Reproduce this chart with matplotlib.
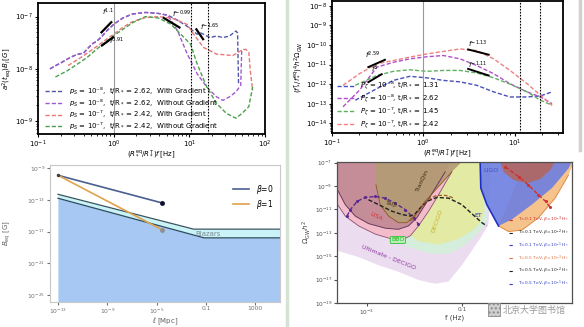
import matplotlib
matplotlib.use("Agg")
import matplotlib.pyplot as plt
from matplotlib.patches import Rectangle

W, H = 584, 327

# ---------------- top left: B-field spectra ----------------
tl_rise_f = [0.144, 0.17, 0.2, 0.246, 0.29, 0.333, 0.4, 0.447, 0.52, 0.60, 0.7, 0.806, 1.0, 1.32, 1.77, 2.63, 3.9, 5.2]
tl_rise_b = [1.0e-8, 1.15e-8, 1.3e-8, 1.55e-8, 1.75e-8, 1.9e-8, 2.0e-8, 2.4e-8, 3.0e-8, 3.4e-8, 4.2e-8, 5.3e-8, 7.1e-8, 9.4e-8, 1.12e-7, 1.2e-7, 1.15e-7, 1.06e-7]
tl_blue_f = [7.0, 9.4, 12.7, 14.0, 18.8, 22.9, 27.8, 33.9, 41.2, 43.4, 44.7]
tl_blue_b = [8.5e-8, 6.5e-8, 4.6e-8, 4.9e-8, 3.98e-8, 4.25e-8, 3.98e-8, 4.25e-8, 5.3e-8, 4.9e-8, 5.2e-9]
tl_purple_f = [7.0, 9.4, 12.7, 17.0, 22.9, 27.8, 33.9, 41.2, 47.8, 49.2, 52.7]
tl_purple_b = [5.3e-8, 1.92e-8, 8.05e-9, 4.5e-9, 2.92e-9, 2.5e-9, 2.92e-9, 3.63e-9, 4.85e-9, 2.22e-8, 2.38e-8]
tl_red_f = [0.25, 0.333, 0.447, 0.60, 0.806, 1.0, 1.32, 1.77, 2.63, 3.9, 5.75, 7.0, 9.4, 11.4, 15.4, 22.9, 30.7, 37.4, 47.8, 55.4, 61.1, 64.0, 68.7]
tl_red_b = [1.16e-8, 1.5e-8, 2.0e-8, 2.7e-8, 3.7e-8, 4.6e-8, 6.2e-8, 8.0e-8, 9.6e-8, 1.0e-7, 9.4e-8, 8.5e-8, 7.06e-8, 4.6e-8, 2.57e-8, 1.92e-8, 1.85e-8, 1.79e-8, 2.22e-8, 2.38e-8, 2.1e-8, 9.0e-9, 3.9e-9]
tl_green_f = [0.17, 0.246, 0.333, 0.447, 0.60, 0.806, 1.0, 1.32, 1.77, 2.63, 3.9, 5.75, 7.0, 10.4, 12.7, 17.0, 22.9, 30.7, 41.2, 50.0, 61.1, 68.7]
tl_green_b = [7.0e-9, 9.3e-9, 1.24e-8, 1.66e-8, 2.4e-8, 3.4e-8, 4.3e-8, 5.7e-8, 7.6e-8, 1.0e-7, 9.4e-8, 7.1e-8, 5.3e-8, 2.96e-8, 1.24e-8, 4.5e-9, 2.19e-9, 1.42e-9, 1.14e-9, 1.42e-9, 1.9e-9, 4.5e-9]
tl_labels = [r"$p_S$ = 10⁻⁸,  t/R$_*$ = 2.62,  With Gradient",
             r"$p_S$ = 10⁻⁸,  t/R$_*$ = 2.62,  Without Gradient",
             r"$p_S$ = 10⁻⁷,  t/R$_*$ = 2.42,  With Gradient",
             r"$p_S$ = 10⁻⁷,  t/R$_*$ = 2.42,  Without Gradient"]
tl_slopes = [(r"$f^{1.1}$", 0.70, 1.22e-7, [0.69, 0.93], [5.0e-8, 7.8e-8]),
             (r"$f^{0.91}$", 0.86, 3.3e-8, [0.70, 0.98], [2.8e-8, 4.0e-8]),
             (r"$f^{-0.99}$", 5.9, 1.1e-7, [4.6, 7.4], [9.4e-8, 6.2e-8]),
             (r"$f^{-1.65}$", 13.8, 6.3e-8, [12.4, 15.2], [5.7e-8, 3.7e-8])]

# ---------------- top right: GW spectra ----------------
tr_f = [0.132, 0.20, 0.31, 0.47, 0.71, 1.09, 1.66, 2.53, 3.85, 5.9, 8.9, 13.7, 19.2, 25.7]
tr_pink = [8.7e-13, 3.4e-12, 1.1e-11, 1.6e-11, 2.4e-11, 3.5e-11, 4.7e-11, 6.3e-11, 5.2e-11, 1.95e-11, 5.0e-12, 1.05e-12, 2.7e-13, 8.3e-14]
tr_purple = [6.9e-14, 4.9e-13, 7.4e-12, 1.3e-11, 1.95e-11, 2.5e-11, 2.9e-11, 1.95e-11, 8.9e-12, 3.4e-12, 1.05e-12, 4.0e-13, 2.2e-13, 1.0e-13]
tr_f2 = [0.18, 0.31, 0.47, 0.71, 1.09, 1.66, 2.53, 3.85, 5.9, 8.9, 13.7, 19.2, 25.7]
tr_green = [8.7e-13, 2.75e-12, 4.5e-12, 5.4e-12, 4.5e-12, 5.0e-12, 5.0e-12, 3.7e-12, 2.1e-12, 1.0e-12, 4.0e-13, 1.5e-13, 8.3e-14]
tr_blue = [1.5e-13, 5.9e-13, 1.55e-12, 2.5e-12, 2.1e-12, 1.55e-12, 1.3e-12, 8.7e-13, 4.0e-13, 2.2e-13, 2.2e-13, 2.5e-13, 4.0e-13]
tr_labels = [r"$P_\zeta$ = 10⁻⁸, t/R$_*$ = 1.31",
             r"$P_\zeta$ = 10⁻⁸, t/R$_*$ = 2.62",
             r"$P_\zeta$ = 10⁻⁷, t/R$_*$ = 1.45",
             r"$P_\zeta$ = 10⁻⁷, t/R$_*$ = 2.42"]
tr_slopes = [(r"$f^{2.59}$", 0.23, 3.0e-11, [0.25, 0.38], [7.4e-12, 1.75e-11]),
             (r"$f^{3}$", 0.27, 5.6e-12, [0.25, 0.35], [1.26e-12, 3.2e-12]),
             (r"$f^{-1.13}$", 3.1, 1.1e-10, [3.1, 5.2], [5.9e-11, 3.2e-11]),
             (r"$f^{-1.11}$", 3.1, 9.5e-12, [3.1, 5.2], [6.0e-12, 2.75e-12])]

# ---------------- bottom left: field strength vs scale ----------------
bl_band_l = [1e-13, 0.01, 1e5]
bl_band_top = [10**-12.3, 10**-16.7, 10**-16.7]
bl_blue_l = [1e-13, 0.07, 1e5]
bl_blue_top = [10**-12.8, 10**-17.8, 10**-17.8]
bl_beta0_l = [1e-13, 10**-4.54]
bl_beta0_b = [10**-9.9, 10**-13.4]
bl_beta1_l = [1e-13, 10**-4.54]
bl_beta1_b = [10**-9.9, 10**-16.8]

# ---------------- bottom right: sensitivity curves ----------------
s_lav_f = [2.3e-4, 2.3e-4, 6.7e-4, 1.76e-3, 4.6e-3, 0.0122, 0.0275, 0.0525, 0.1, 0.163, 0.264, 0.364, 0.43]
s_lav_o = [1.2e-7, 3.1e-15, 8.5e-16, 1.7e-16, 4.7e-17, 9.3e-18, 4.4e-18, 6.8e-18, 1.7e-16, 3.1e-15, 5.6e-14, 5.4e-13, 1.2e-7]
s_bbo_f = [3.36e-3, 3.36e-3, 7.5e-3, 0.0233, 0.0525, 0.1, 0.163, 0.264, 0.336, 0.31]
s_bbo_o = [1.2e-7, 4.1e-14, 5.9e-15, 1.6e-15, 1.6e-15, 5.9e-15, 2.95e-14, 2.0e-13, 1.0e-12, 1.2e-7]
s_dec_f = [5.5e-3, 5.5e-3, 0.0122, 0.0323, 0.085, 0.163, 0.243, 0.30, 0.272, 0.243]
s_dec_o = [1.2e-7, 2.0e-13, 1.9e-14, 1.0e-14, 2.95e-14, 1.5e-13, 7.4e-13, 7.1e-12, 6.6e-10, 1.2e-7]
s_pink_f = [2.3e-4, 2.3e-4, 3.5e-4, 6.7e-4, 1.5e-3, 3.36e-3, 5.5e-3, 8.2e-3, 0.0122, 0.0199, 0.0323, 0.0615, 0.0785]
s_pink_o = [1.2e-7, 3.5e-11, 2.7e-12, 3.9e-13, 7.8e-14, 2.95e-14, 2.45e-14, 5.6e-14, 3.9e-13, 7.1e-12, 1.8e-10, 1.66e-8, 1.2e-7]
s_lisa_f = [2.3e-4, 2.3e-4, 3.5e-4, 5.7e-4, 1.08e-3, 2.43e-3, 4.6e-3, 7.5e-3, 0.0113, 0.0169, 0.0275, 0.0446, 0.0568]
s_lisa_o = [1.2e-7, 6.6e-10, 2.6e-11, 2.7e-12, 6.2e-13, 2.5e-13, 2.0e-13, 3.9e-13, 1.95e-12, 2.6e-11, 6.6e-10, 1.66e-8, 1.2e-7]
s_tq_f = [1.5e-3, 1.55e-3, 1.9e-3, 2.86e-3, 4.6e-3, 6.95e-3, 0.0104, 0.0169, 0.0323, 0.0615, 0.1]
s_tq_o = [1.2e-7, 1.26e-9, 2.6e-11, 2.7e-12, 7.4e-13, 7.4e-13, 3.7e-12, 4.9e-11, 9.1e-10, 1.66e-8, 1.2e-7]
s_ce_f = [0.592, 0.96, 1.83, 4.11, 9.2, 17.6, 23.0, 2.15]
s_ce_o = [3.9e-13, 1.3e-13, 1.7e-13, 1.95e-12, 9.3e-11, 8.7e-9, 1.2e-7, 1.2e-7]
s_et_f = [0.243, 0.251, 0.336, 0.592, 1.13, 2.98, 7.85, 17.6, 20.7]
s_et_o = [1.2e-7, 6.6e-10, 2.6e-11, 3.9e-13, 1.4e-12, 2.6e-11, 6.6e-10, 3.2e-8, 1.2e-7]
s_red_f = [0.641, 0.754, 1.22, 2.34, 4.46, 7.24, 9.2]
s_red_o = [1.2e-7, 1.66e-8, 3.3e-9, 1.74e-9, 4.0e-9, 2.3e-8, 1.2e-7]

gw_purple_f = [3.8e-4, 4.5e-4, 6.2e-4, 9.2e-4, 1.5e-3, 2.43e-3, 3.9e-3, 6.4e-3, 9.6e-3, 0.0122]
gw_purple_o = [2.7e-12, 9.8e-12, 4.9e-11, 1.07e-10, 1.3e-10, 9.3e-11, 3.5e-11, 9.8e-12, 1.95e-12, 5.4e-13]
gw_black_f = [1.08e-3, 1.76e-3, 3.36e-3, 5.5e-3, 8.2e-3, 0.0104, 0.0133, 0.0183, 0.0298, 0.0525, 0.1, 0.163, 0.264, 0.336]
gw_black_o = [6.8e-11, 2.6e-11, 7.1e-12, 3.7e-12, 2.7e-12, 4.3e-12, 1.35e-11, 4.9e-11, 1.07e-10, 9.3e-11, 2.6e-11, 4.3e-12, 7.4e-13, 3.9e-13]
gw_brown_f = [8.2e-3, 0.0133, 0.0183, 0.0298, 0.045, 0.07]
gw_brown_o = [1.0e-12, 9.8e-12, 6.8e-11, 1.6e-10, 1.6e-10, 9.3e-11]
gw_red_f = [0.82, 1.6, 2.5, 4.1, 5.8, 7.2]
gw_red_o = [4.4e-8, 6.3e-9, 1.26e-9, 1.8e-10, 4.9e-11, 1.55e-11]
gw_leg = [r"T=0.1 TeV, $\beta$=10$^{-3}$ H$_*$", r"T=0.1 TeV, $\beta$=10$^{-2}$ H$_*$",
          r"T=0.1 TeV, $\beta$=10$^{-1}$ H$_*$", r"T=0.5 TeV, $\beta$=10$^{-3}$ H$_*$",
          r"T=0.5 TeV, $\beta$=10$^{-2}$ H$_*$", r"T=0.5 TeV, $\beta$=10$^{-1}$ H$_*$"]
gw_leg_colors = ["#d03030", "#202020", "#3040c0", "#e07040", "#202020", "#3040c0"]
det_names = [("LISA", 1.6e-3, 2.7e-12, -25, "#e03030"), ("Taiji", 3.3e-3, 2.6e-11, -15, "#3a2a10"),
             ("TianQin", 0.0144, 3.3e-9, 65, "#3a2a10"), ("DECIGO", 0.0298, 1.0e-12, 70, "#c8b030"),
             ("ET", 0.224, 3.3e-12, 0, "#2030c0"), ("LIGO", 0.415, 2.3e-8, 0, "#4050c0"),
             ("Ultimate - DECIGO", 2.9e-3, 8.5e-16, -22, "#8a3aa0")]

fig = plt.figure(figsize=(W / 100, H / 100), dpi=100)
fig.patch.set_facecolor("white")


def add_ax(x0, y0, x1, y1):
    return fig.add_axes([x0 / W, 1 - y1 / H, (x1 - x0) / W, (y1 - y0) / H])


dash = (0, (3, 1.5))
vdash = (0, (1.5, 1.2))

# ---- top left
ax1 = add_ax(38, 3, 265, 134)
ax1.set_xscale("log")
ax1.set_yscale("log")
c1 = ["#5058a8", "#a058d0", "#e87878", "#4ea04e"]
ax1.plot(tl_rise_f + tl_blue_f, tl_rise_b + tl_blue_b, color=c1[0], lw=1, ls=dash, label=tl_labels[0])
ax1.plot(tl_rise_f + tl_purple_f, tl_rise_b + tl_purple_b, color=c1[1], lw=1, ls=dash, label=tl_labels[1])
ax1.plot(tl_red_f, tl_red_b, color=c1[2], lw=1, ls=dash, label=tl_labels[2])
ax1.plot(tl_green_f, tl_green_b, color=c1[3], lw=1, ls=dash, label=tl_labels[3])
ax1.axvline(1.0, color="#999999", lw=0.8)
ax1.axvline(10.4, color="black", lw=0.8, ls=vdash)
ax1.axvline(17.5, color="black", lw=0.8, ls=vdash)
for txt, tx, ty, sx, sy in tl_slopes:
    ax1.plot(sx, sy, color="black", lw=1.6)
    ax1.text(tx, ty, txt, fontsize=5, fontweight="bold", va="center")
ax1.set_xlim(0.1, 100)
ax1.set_ylim(10**-9.245, 10**-6.74)
ax1.set_ylabel(r"$a^2(t_{\rm eq})B_l\,[G]$", fontsize=5, labelpad=1)
ax1.set_xlabel(r"$(R_*^{\rm eq}/R_*^{\rm T})f\,[{\rm Hz}]$", fontsize=5)
ax1.xaxis.set_label_coords(0.5, -0.105)
ax1.legend(loc="lower left", bbox_to_anchor=(0.01, -0.02), frameon=False, fontsize=5,
           handlelength=2.6, labelspacing=0.05, borderpad=0.2)

# ---- top right
ax2 = add_ax(332, 1, 563, 133)
ax2.set_xscale("log")
ax2.set_yscale("log")
c2 = ["#4a50b8", "#b050c8", "#60b060", "#f08080"]
ax2.plot(tr_f2, tr_blue, color=c2[0], lw=1, ls=dash, label=tr_labels[0])
ax2.plot(tr_f, tr_purple, color=c2[1], lw=1, ls=dash, label=tr_labels[1])
ax2.plot(tr_f2, tr_green, color=c2[2], lw=1, ls=dash, label=tr_labels[2])
ax2.plot(tr_f, tr_pink, color=c2[3], lw=1, ls=dash, label=tr_labels[3])
ax2.axvline(1.0, color="#999999", lw=0.8)
ax2.axvline(11.5, color="black", lw=0.8, ls=vdash)
ax2.axvline(19.0, color="black", lw=0.8, ls=vdash)
for txt, tx, ty, sx, sy in tr_slopes:
    ax2.plot(sx, sy, color="black", lw=1.4)
    ax2.text(tx, ty, txt, fontsize=5, fontweight="bold", va="center")
ax2.set_xlim(0.1, 10**1.53)
ax2.set_ylim(10**-14.5, 10**-7.75)
ax2.set_ylabel(r"$(f_*^{\rm T}/f_*^{\rm eq})^4h^2\Omega_{\rm GW}$", fontsize=5, labelpad=1)
ax2.set_xlabel(r"$(R_*^{\rm eq}/R_*^{\rm T})f\,[{\rm Hz}]$", fontsize=5)
ax2.xaxis.set_label_coords(0.5, -0.11)
ax2.legend(loc="lower left", bbox_to_anchor=(0.0, -0.02), frameon=False, fontsize=5,
           handlelength=2.6, labelspacing=0.05, borderpad=0.2)

for ax in (ax1, ax2):
    ax.tick_params(labelsize=5, length=2.5, width=0.8, pad=1)
    ax.tick_params(which="minor", length=1.5, width=0.6)
    for s in ax.spines.values():
        s.set_linewidth(1.3)

# ---- bottom left
ax3 = add_ax(50, 165, 280, 302)
ax3.set_xscale("log")
ax3.set_yscale("log")
ax3.fill_between(bl_band_l, 1e-30, bl_band_top, color="#c9f3f6", lw=0)
ax3.plot(bl_band_l, bl_band_top, color="#3a5560", lw=0.9)
ax3.fill_between(bl_blue_l, 1e-30, bl_blue_top, color="#a6c8f2", lw=0)
ax3.plot(bl_blue_l, bl_blue_top, color="#304a60", lw=0.9)
ax3.plot(bl_beta0_l, bl_beta0_b, color="#4a5f90", lw=1.2, label=r"$\beta$=0")
ax3.plot(bl_beta1_l, bl_beta1_b, color="#e0a24a", lw=1.2, label=r"$\beta$=1")
ax3.plot(bl_beta0_l[-1], bl_beta0_b[-1], "o", color="#101030", ms=2.5)
ax3.plot(bl_beta1_l[-1], bl_beta1_b[-1], "o", color="#909090", ms=2.5)
ax3.plot(bl_beta0_l[0], bl_beta0_b[0], "o", color="#404040", ms=1.5)
ax3.text(0.014, 10**-17.3, "Blazars", fontsize=5, color="#7a8a90", va="center")
ax3.set_xlim(10**-13.65, 1e5)
ax3.set_ylim(10**-25.9, 10**-8.6)
ax3.set_xticks([1e-13, 1e-9, 1e-5, 0.1, 1000])
ax3.set_xticklabels([r"$10^{-13}$", r"$10^{-9}$", r"$10^{-5}$", "0.1", "1000"])
ax3.set_yticks([1e-9, 1e-13, 1e-17, 1e-21, 1e-25])
ax3.set_yticklabels([r"$10^{-9}$", r"$10^{-13}$", r"$10^{-17}$", r"$10^{-21}$", r"$10^{-25}$"])
ax3.minorticks_off()
ax3.tick_params(labelsize=4.3, length=2, colors="#707070", pad=1.2)
for s in ax3.spines.values():
    s.set_color("#c8c8c8")
ax3.set_xlabel(r"$\ell$ [Mpc]", fontsize=5, color="#606060")
ax3.xaxis.set_label_coords(0.5, -0.1)
ax3.set_ylabel(r"$B_{\rm eq}$ [G]", fontsize=5, color="#606060")
ax3.yaxis.set_label_coords(-0.16, 0.5)
ax3.legend(loc="upper right", bbox_to_anchor=(1.0, 0.92), frameon=False, fontsize=5.5,
           handlelength=2.2, labelspacing=0.3)

# ---- bottom right
ax4 = add_ax(337, 162, 572, 303)
ax4.set_xscale("log")
ax4.set_yscale("log")
ax4.fill(s_lav_f, s_lav_o, color="#ecdcf0", lw=0)
ax4.fill(s_bbo_f, s_bbo_o, color="#d4eedb", lw=0)
ax4.fill(s_dec_f, s_dec_o, color="#e2eaa4", lw=0)
ax4.fill(s_pink_f, s_pink_o, color="#f2bccb", lw=0)
ax4.plot(s_pink_f[1:-1], s_pink_o[1:-1], color="#8a5070", lw=0.6)
ax4.fill(s_lisa_f, s_lisa_o, color="#c48d98", lw=0)
ax4.plot(s_lisa_f[1:-1], s_lisa_o[1:-1], color="#6a3a60", lw=0.7)
ax4.fill(s_tq_f, s_tq_o, color="#b39c74", alpha=0.9, lw=0)
ax4.plot(s_tq_f[1:-1], s_tq_o[1:-1], color="#8a5a20", lw=0.6)
ax4.fill(s_ce_f, s_ce_o, color="#f6c38c", lw=0)
ax4.plot(s_ce_f[:6], s_ce_o[:6], color="#e08a40", lw=0.7)
ax4.fill(s_et_f, s_et_o, color="#6d7fe0", alpha=0.9, lw=0)
ax4.plot(s_et_f[:4], s_et_o[:4], color="#2030c0", lw=1.2)
ax4.fill(s_red_f, s_red_o, color="#b5655a", alpha=0.85, lw=0)
ax4.plot(gw_purple_f, gw_purple_o, color="#5a2a90", lw=1, ls=dash, marker="o", ms=1.2)
ax4.plot(gw_black_f, gw_black_o, color="#202020", lw=1, ls=dash)
ax4.plot(gw_brown_f, gw_brown_o, color="#a05a2a", lw=0.9, ls=dash)
ax4.plot(gw_red_f, gw_red_o, color="#d03030", lw=1, ls=dash, marker="o", ms=1.2)
for name, fx, fy, rot, col in det_names:
    ax4.text(fx, fy, name, fontsize=4.5, color=col, rotation=rot, ha="center", va="center")
ax4.text(4.5e-3, 2.45e-14, "BBO", fontsize=4.5, color="#20b020", ha="center", va="center",
         bbox=dict(boxstyle="round,pad=0.15", fc="#b8f0b8", ec="#30c030", lw=0.6))
for lab, col in zip(gw_leg, gw_leg_colors):
    ax4.plot([], [], color=col, lw=0.8, ls=dash, label=lab)
ax4.legend(loc="lower right", bbox_to_anchor=(1.0, 0.08), frameon=False, fontsize=3.2,
           handlelength=1.2, labelspacing=0.55, borderpad=0.1, labelcolor=gw_leg_colors)
ax4.set_xlim(10**-3.63, 10**1.32)
ax4.set_ylim(10**-18.85, 10**-6.94)
ax4.set_xticks([1e-3, 0.1])
ax4.set_xticklabels([r"$10^{-3}$", "0.1"])
ax4.set_yticks([1e-7, 1e-9, 1e-11, 1e-13, 1e-15, 1e-17, 1e-19])
ax4.set_yticklabels([r"$10^{-7}$", r"$10^{-9}$", r"$10^{-11}$", r"$10^{-13}$",
                     r"$10^{-15}$", r"$10^{-17}$", r"$10^{-19}$"])
ax4.minorticks_off()
ax4.tick_params(labelsize=4.2, length=2, colors="#505050", pad=1.2)
for s in ax4.spines.values():
    s.set_color("#505050")
    s.set_linewidth(0.9)
ax4.set_xlabel("f (Hz)", fontsize=5, color="#404040")
ax4.xaxis.set_label_coords(0.5, -0.08)
ax4.set_ylabel(r"$\Omega_{\rm GW}h^2$", fontsize=5, color="#404040", labelpad=1)

# slide separators and watermark
fig.add_artist(plt.Line2D([287 / W, 287 / W], [0, 1], color="#d6e2d6", lw=2.5))
fig.add_artist(plt.Line2D([580 / W, 580 / W], [1 - 150 / H, 1], color="#d0d0d0", lw=2.5))
fig.add_artist(Rectangle((488 / W, 1 - 316 / H), 12 / W, 13 / H, fc="#d0d0d0", ec="#8a8a8a",
                         lw=0.6, hatch="....", transform=fig.transFigure))
fig.text(503 / W, 1 - 310 / H, "北京大学图书馆", fontsize=6.5, color="#9a9a9a", va="center",
         family=["Noto Sans CJK SC", "DejaVu Sans"])

fig.savefig("out.png", dpi=100, facecolor="white")
